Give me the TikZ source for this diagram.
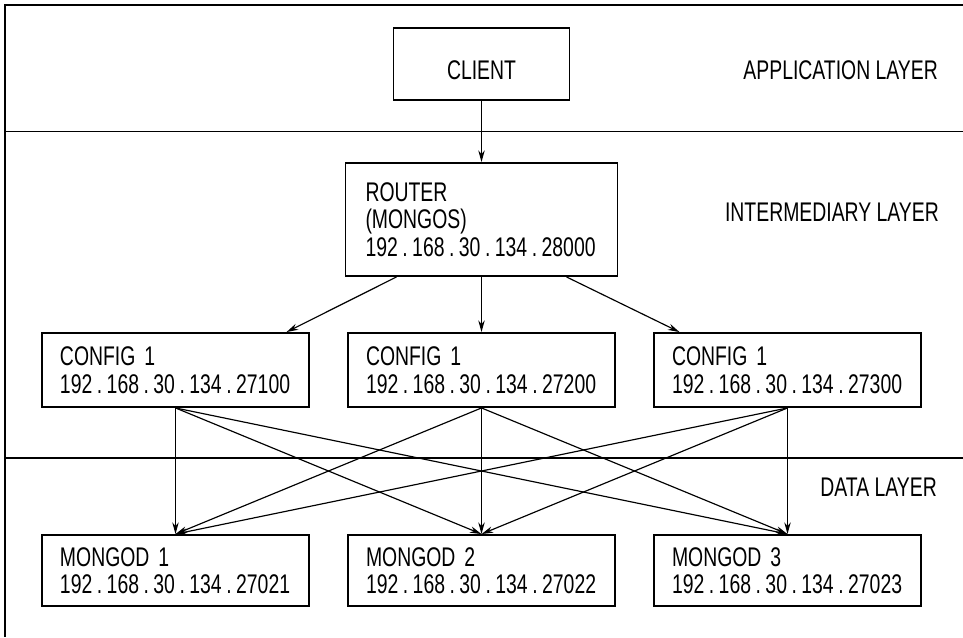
\documentclass[tikz,border=0pt]{standalone}
\usepackage{fontspec}
\setmainfont{Liberation Sans}[FakeStretch=0.72]
\usetikzlibrary{positioning, arrows.meta, calc}
\tikzset{
box/.style={draw, rectangle, line width=1.6pt, inner ysep=0pt, align=left, font=\fontsize{23}{23.5}\selectfont}, % the server boxes
cfgbox/.style={box, inner xsep=5.4mm, text width=69.3mm, minimum height=22.2mm}, % config and mongod boxes
layer/.style={anchor=east, font=\fontsize{23}{23.5}\selectfont}, % names of the layers
link/.style={-{Stealth[length=10pt, width=5.5pt]}, line width=1pt}, % arrows between boxes
frame/.style={line width=1.5pt}, % lines that split the layers
}

\begin{document}
\begin{tikzpicture}[x=0.3mm, y=-0.3mm]
    \useasboundingbox (0,0) rectangle (963,637);
    % layer frame
    \draw[frame] (963,5) -- (5,5) -- (5,637);
    \draw[frame] (5,131.5) -- (963,131.5);
    \draw[frame] (5,458) -- (963,458);
    \node[layer] (app) at (942,70) {APPLICATION LAYER};
    \node[layer] (mid) at (943,212) {INTERMEDIARY LAYER};
    \node[layer] (data) at (941,487) {DATA LAYER};

    \node[box, inner sep=0pt, align=center, text height=9.3mm, text depth=0pt,
          minimum width=52.8mm, minimum height=21.6mm] (client) at (481.5,64) {CLIENT};
    \node[box, inner xsep=6mm, text width=69.6mm, minimum height=33.9mm] (router) at (481.5,219.5)
        {ROUTER\\(MONGOS)\\192\,.\,168\,.\,30\,.\,134\,.\,28000};

    \node[cfgbox] (cfg1) at (175.5,370) {CONFIG 1\\192\,.\,168\,.\,30\,.\,134\,.\,27100};
    \node[cfgbox] (cfg2) at (481.5,370) {CONFIG 1\\192\,.\,168\,.\,30\,.\,134\,.\,27200};
    \node[cfgbox] (cfg3) at (787.5,370) {CONFIG 1\\192\,.\,168\,.\,30\,.\,134\,.\,27300};

    \node[cfgbox, minimum height=21.3mm] (mgd1) at (175.5,570.5) {MONGOD 1\\192\,.\,168\,.\,30\,.\,134\,.\,27021};
    \node[cfgbox, minimum height=21.3mm] (mgd2) at (481.5,570.5) {MONGOD 2\\192\,.\,168\,.\,30\,.\,134\,.\,27022};
    \node[cfgbox, minimum height=21.3mm] (mgd3) at (787.5,570.5) {MONGOD 3\\192\,.\,168\,.\,30\,.\,134\,.\,27023};

    \draw[link] (client) -- (router);
    \draw[link] ($(router.south)+(-85,0)$) -- ($(cfg1.north)+(111,0)$);
    \draw[link] (router) -- (cfg2);
    \draw[link] ($(router.south)+(85,0)$) -- ($(cfg3.north)+(-108,0)$);
    \foreach \i in {1,2,3}
        \foreach \j in {1,2,3}
            \draw[link] (cfg\i.south) -- (mgd\j.north);
\end{tikzpicture}
\end{document}
